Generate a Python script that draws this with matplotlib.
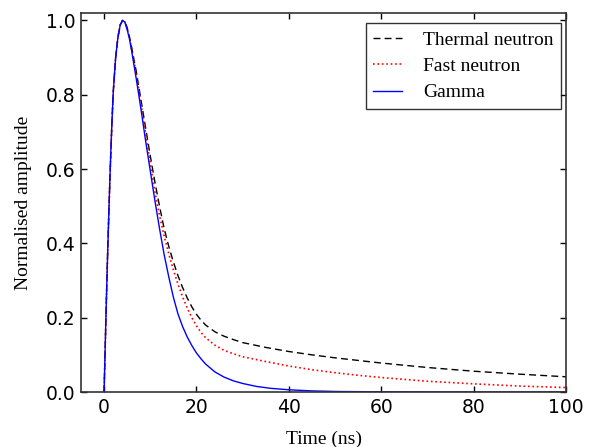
import matplotlib
matplotlib.use("Agg")
import matplotlib.pyplot as plt

# Pulse shapes (time in ns, normalised amplitude)
t_gamma = [0, 0.25, 0.5, 0.75, 1.0, 1.25, 1.5, 1.75, 2.0, 2.5, 3.0, 3.5, 4.0, 4.5, 5.0, 5.5,
           6.0, 7.0, 8.0, 9.0, 10.0, 11.0, 12.0, 13.0, 14.0, 15.0, 16.0, 17.0, 18.0, 19.0,
           20.0, 21.0, 22.0, 24.0, 26.0, 28.0, 30.0, 33.0, 36.0, 40.0, 45.0, 50.0, 60.0, 70.0,
           80.0, 100.0]
gamma = [0, 0.125, 0.25, 0.365, 0.47, 0.57, 0.66, 0.74, 0.81, 0.9, 0.955, 0.988, 1.0, 0.995,
         0.975, 0.95, 0.915, 0.84, 0.76, 0.675, 0.595, 0.515, 0.44, 0.37, 0.31, 0.255, 0.21,
         0.176, 0.148, 0.125, 0.105, 0.089, 0.075, 0.054, 0.040, 0.030, 0.023, 0.015, 0.010,
         0.006, 0.003, 0.0015, 0.0005, 0.0002, 0.0, 0.0]

t_neutron = [0, 0.25, 0.5, 0.75, 1.0, 1.25, 1.5, 1.75, 2.0, 2.5, 3.0, 3.5, 4.0, 4.5, 5.0, 5.5,
             6.0, 7.0, 8.0, 9.0, 10.0, 11.0, 12.0, 13.0, 14.0, 15.0, 16.0, 17.0, 18.0, 19.0,
             20.0, 21.0, 22.0, 24.0, 26.0, 28.0, 30.0, 35.0, 40.0, 45.0, 50.0, 55.0, 60.0,
             65.0, 70.0, 80.0, 90.0, 100.0]
thermal = [0, 0.125, 0.25, 0.365, 0.47, 0.57, 0.66, 0.74, 0.81, 0.9, 0.955, 0.988, 1.0, 0.997,
           0.98, 0.955, 0.925, 0.86, 0.785, 0.71, 0.635, 0.565, 0.50, 0.44, 0.392, 0.35, 0.313,
           0.281, 0.253, 0.229, 0.209, 0.193, 0.18, 0.162, 0.15, 0.141, 0.133, 0.12, 0.109,
           0.100, 0.092, 0.085, 0.078, 0.072, 0.066, 0.056, 0.048, 0.041]
fast = [0, 0.125, 0.25, 0.365, 0.47, 0.57, 0.66, 0.74, 0.81, 0.9, 0.955, 0.988, 1.0, 0.996,
        0.978, 0.953, 0.922, 0.855, 0.775, 0.695, 0.615, 0.54, 0.475, 0.42, 0.372, 0.329, 0.29,
        0.256, 0.226, 0.2, 0.178, 0.16, 0.146, 0.126, 0.112, 0.103, 0.095, 0.082, 0.07,
        0.06, 0.052, 0.045, 0.039, 0.034, 0.029, 0.022, 0.016, 0.012]

serif = 'Liberation Serif'

fig = plt.figure(figsize=(5.89, 4.47), dpi=100)
ax = fig.add_axes([0.1375, 0.123, 0.8235, 0.848])

ax.plot(t_neutron, thermal, color='black', linestyle=(0, (5, 3)), linewidth=1,
        label='Thermal neutron')
ax.plot(t_neutron, fast, color='red', linestyle=':', linewidth=1.2, label='Fast neutron')
ax.plot(t_gamma, gamma, color='blue', linestyle='-', linewidth=1, label='Gamma')

ax.set_xlim(-5, 100)
ax.set_ylim(0, 1.02)
ax.set_xticks([0, 20, 40, 60, 80, 100])
ax.set_yticks([0.0, 0.2, 0.4, 0.6, 0.8, 1.0])
ax.tick_params(direction='in', top=True, right=True, length=4, width=1,
               labelsize=13.5, pad=4)
for s in ax.spines.values():
    s.set_color('0.2')
    s.set_linewidth(1.2)

ax.set_xlabel('Time (ns)', family=serif, fontsize=14, labelpad=10)
ax.set_ylabel('Normalised amplitude', family=serif, fontsize=14, labelpad=10)

leg = ax.legend(loc='upper right', bbox_to_anchor=(0.99, 0.973), borderaxespad=0,
                prop={'family': serif, 'size': 14}, frameon=True, fancybox=False,
                handlelength=1.45, handletextpad=1.1, labelspacing=0.45)
leg.get_frame().set_edgecolor('black')
leg.get_frame().set_linewidth(1)

fig.savefig('out.png', dpi=100)
